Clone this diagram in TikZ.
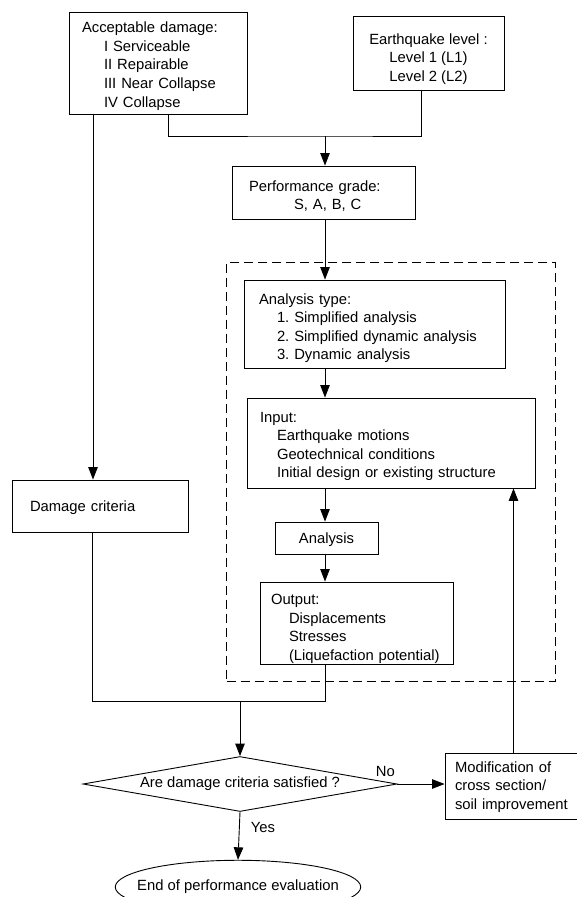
\documentclass[tikz,border=0pt]{standalone}
\usepackage{fontspec}
\setmainfont{Liberation Sans}
\usetikzlibrary{shapes.geometric,arrows.meta,fit}

\begin{document}
\begin{tikzpicture}[
  x=1pt, y=-1pt,
  font=\fontsize{14.8}{18.6}\selectfont\frenchspacing,
  line width=0.9pt,
  box/.style={draw, rectangle, align=left, inner xsep=13pt, inner ysep=0pt},
  arr/.style={-{Triangle[length=12.5pt, width=9.5pt]}},
  lab/.style={inner sep=1pt},
  decision/.style={draw, diamond, aspect=5.7, minimum width=314pt, minimum height=55pt, inner sep=0pt},
  terminal/.style={draw, ellipse, inner xsep=-14pt, inner ysep=12pt}
]
\useasboundingbox (0,0) rectangle (577,897);
% the rules at line starts push the text a little down in its box
\node[box, text width=152pt, minimum height=102pt] (accdmg) at (158,63) {\rule{0pt}{17pt}Acceptable damage:\\
  \hspace*{22pt}I Serviceable\\ \hspace*{22pt}II Repairable\\
  \hspace*{22pt}III Near Collapse\\ \hspace*{22pt}IV Collapse};
\node[box, align=center, minimum width=151pt, minimum height=74pt] (eqlevel) at (428.5,53) {\rule{0pt}{23pt}Earthquake level :\\
  Level 1 (L1)\\ Level 2 (L2)};
\node[box, text width=149pt, inner xsep=17pt, minimum height=53pt] (perfgrade) at (323.5,192.5) {\rule{0pt}{18pt}Performance grade:\\
  \hspace*{45pt}S, A, B, C};
\node[box, text width=231pt, inner xsep=15pt, minimum height=88pt] (antype) at (374.5,324) {\rule{0pt}{19pt}Analysis type:\\
  \hspace*{18pt}1. Simplified analysis\\ \hspace*{18pt}2. Simplified dynamic analysis\\
  \hspace*{18pt}3. Dynamic analysis};
\node[box, text width=262pt, minimum height=90pt] (input) at (391,443) {\rule{0pt}{17pt}Input:\\
  \hspace*{17pt}Earthquake motions\\ \hspace*{17pt}Geotechnical conditions\\
  \hspace*{17pt}Initial design or existing structure};
\node[box, align=center, minimum width=103pt, minimum height=32pt] (analysis) at (326.5,538) {\rule{0pt}{14pt}Analysis};
\node[box, text width=171pt, inner xsep=11pt, minimum height=82pt] (output) at (356.5,623) {\rule{0pt}{22pt}Output:\\
  \hspace*{18pt}Displacements\\ \hspace*{18pt}Stresses\\
  \hspace*{18pt}(Liquefaction potential)};
\node[box, text width=140pt, inner xsep=18pt, minimum height=52pt] (dmgcrit) at (100,506) {\rule{0pt}{15pt}Damage criteria};
\node[decision] (check) at (240,784) {Are damage criteria satisfied ?};
\node[box, text width=117pt, inner xsep=10pt, minimum height=66pt] (modif) at (513.5,786) {\rule{0pt}{13pt}Modification of\\
  cross section/\\ soil improvement};
\node[terminal] (endeval) at (238,887) {End of performance evaluation};
\coordinate (join1) at (325,136);
\coordinate (join2) at (240,701);
\draw ([xshift=10pt]accdmg.south) |- (join1) -| ([xshift=-7.5pt]eqlevel.south);
\draw[arr] (join1) -- (join1 |- perfgrade.north);
\draw[arr] (perfgrade.south -| join1) -- (join1 |- antype.north);
\draw[arr] (antype.south -| join1) -- (join1 |- input.north);
\draw[arr] (input.south -| join1) -- (join1 |- analysis.north);
\draw[arr] (analysis.south -| join1) -- (join1 |- output.north);
\draw[arr] ([xshift=-65pt]accdmg.south) -- ([xshift=-65pt]accdmg.south |- dmgcrit.north);
\draw (output.south -| join1) |- ([xshift=-8pt]dmgcrit.south |- join2) -- ([xshift=-8pt]dmgcrit.south);
\draw[arr] (join2) -- (check.north);
\draw[arr] (check.east) -- node[lab, pos=0, xshift=-12pt, yshift=13pt]{No} (check.east -| modif.west);
\draw[arr] (check.south) -- node[lab, pos=0.33, right=10pt]{Yes} (endeval.north);
\draw[arr] (modif.north) -- (modif.north |- input.south);
\node[fit=(antype)(input)(output), draw, dash pattern=on 9pt off 5pt, inner ysep=17pt, inner xsep=18.5pt, xshift=1.5pt] (analysisgroup) {};
\end{tikzpicture}
\end{document}
